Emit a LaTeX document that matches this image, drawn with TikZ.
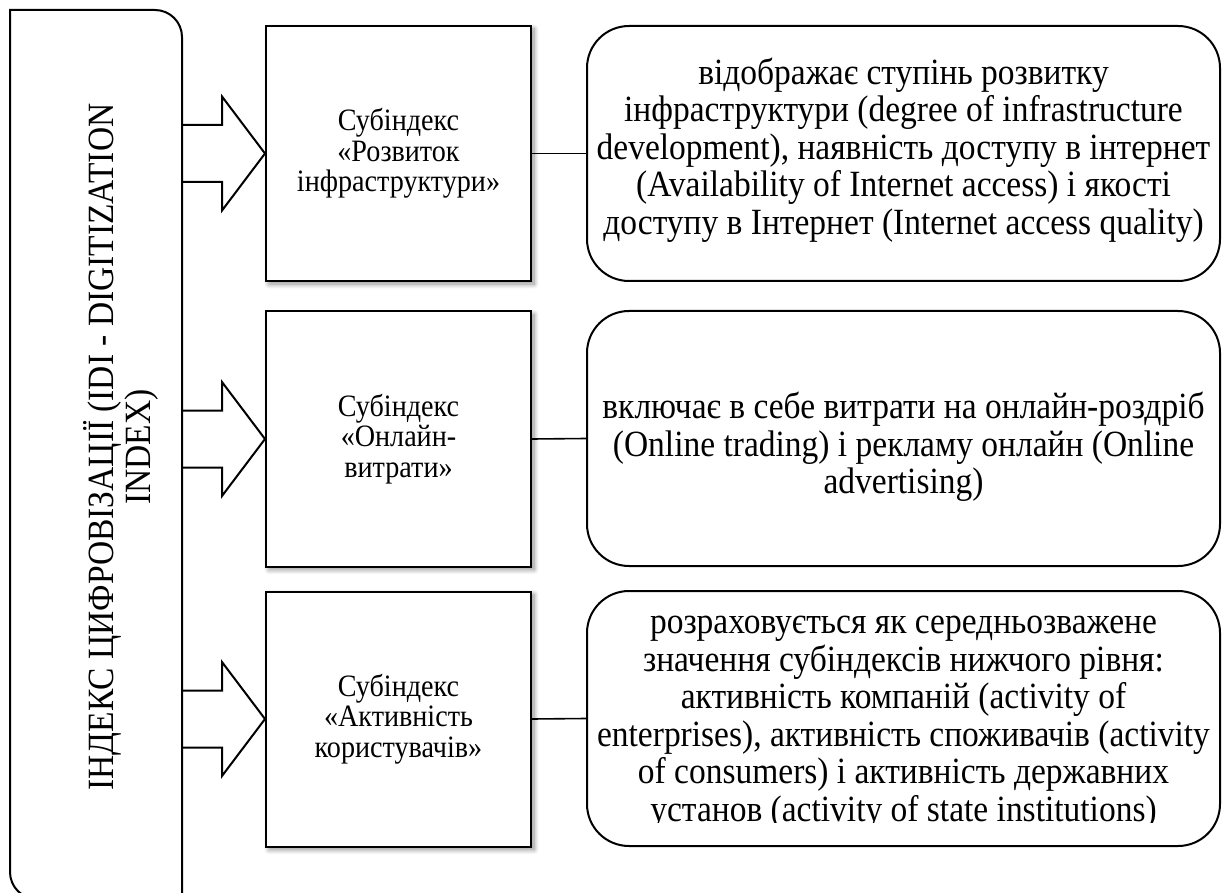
\documentclass[tikz,border=0pt]{standalone}
\usepackage{fontspec}
\setmainfont[FakeStretch=0.905]{Liberation Serif}
\usetikzlibrary{shadows.blur}
\tikzset{
  frame/.style={line width=2pt, line join=miter},
  link/.style={line width=1.6pt},
  subbox/.style={draw, line width=2pt, fill=white, minimum width=265pt, minimum height=255pt,
    inner sep=0pt, align=center, font=\fontsize{31.1}{30.5}\selectfont,
    blur shadow={shadow xshift=3pt, shadow yshift=-3pt, shadow blur radius=5pt,
      shadow blur steps=10, shadow opacity=45}},
  descbox/.style={draw, line width=2pt, rounded corners=42pt, minimum width=633pt,
    minimum height=255pt, inner sep=0pt},
  desctext/.style={align=center, font=\fontsize{37}{37.5}\selectfont, inner sep=0pt},
}
% block arrow ending at the west side of a sub-index box
\newcommand\subarrow[1]{%
  \draw[frame, shift={(#1.west)}] (-84,-28.5) -- (-43,-28.5) -- (-43,-57) -- (0,0)
    -- (-43,57) -- (-43,28.5) -- (-84,28.5);}
\begin{document}
\begin{tikzpicture}[x=1pt, y=-1pt]
\useasboundingbox (0,0) rectangle (1226,893);
\clip (0,0) rectangle (1226,893);

% index column on the left
\draw[frame] (10,10) -- (155,10) arc[start angle=-90, end angle=0, radius=27]
  -- (182,899) -- (37,899) arc[start angle=90, end angle=180, radius=27] -- cycle;
\node[desctext, rotate=90] (idx) at (121,447)
  {ІНДЕКС ЦИФРОВІЗАЦІЇ (IDI - DIGITIZATION\\INDEX)};

% sub-index boxes
\node[subbox] (m1) at (398.5,153.5) {Субіндекс\\«Розвиток\\інфраструктури»};
\node[subbox] (m2) at (398.5,439) {Субіндекс\\«Онлайн-\\витрати»};
\node[subbox] (m3) at (398.5,719) {Субіндекс\\«Активність\\користувачів»};

\subarrow{m1}
\subarrow{m2}
\subarrow{m3}

% description boxes
\node[descbox] (r1) at (903.5,153.5) {};
\node[descbox] (r2) at (903.5,438.5) {};
\node[descbox] (r3) at (903.5,718.5) {};

\draw[link] (m1.east) -- (r1.west);
\draw[link] (m2.east) -- (r2.west);
\draw[link] (m3.east) -- (r3.west);

\node[desctext] (d1) at (903.5,150) {відображає ступінь розвитку\\
  інфраструктури (degree of infrastructure\\
  development), наявність доступу в інтернет\\
  (Availability of Internet access) і якості\\
  доступу в Інтернет (Internet access quality)};
\node[desctext] (d2) at (903.5,447) {включає в себе витрати на онлайн-роздріб\\
  (Online trading) і рекламу онлайн (Online\\
  advertising)};
% the text frame cuts off the foot of the last line
\begin{scope}
  \clip (587,591) rectangle (1220,822);
  \node[desctext] (d3) at (903.5,723) {розраховується як середньозважене\\
    значення субіндексів нижчого рівня:\\
    активність компаній (activity of\\
    enterprises), активність споживачів (activity\\
    of consumers) і активність державних\\
    установ (activity of state institutions)};
\end{scope}
\end{tikzpicture}
\end{document}
